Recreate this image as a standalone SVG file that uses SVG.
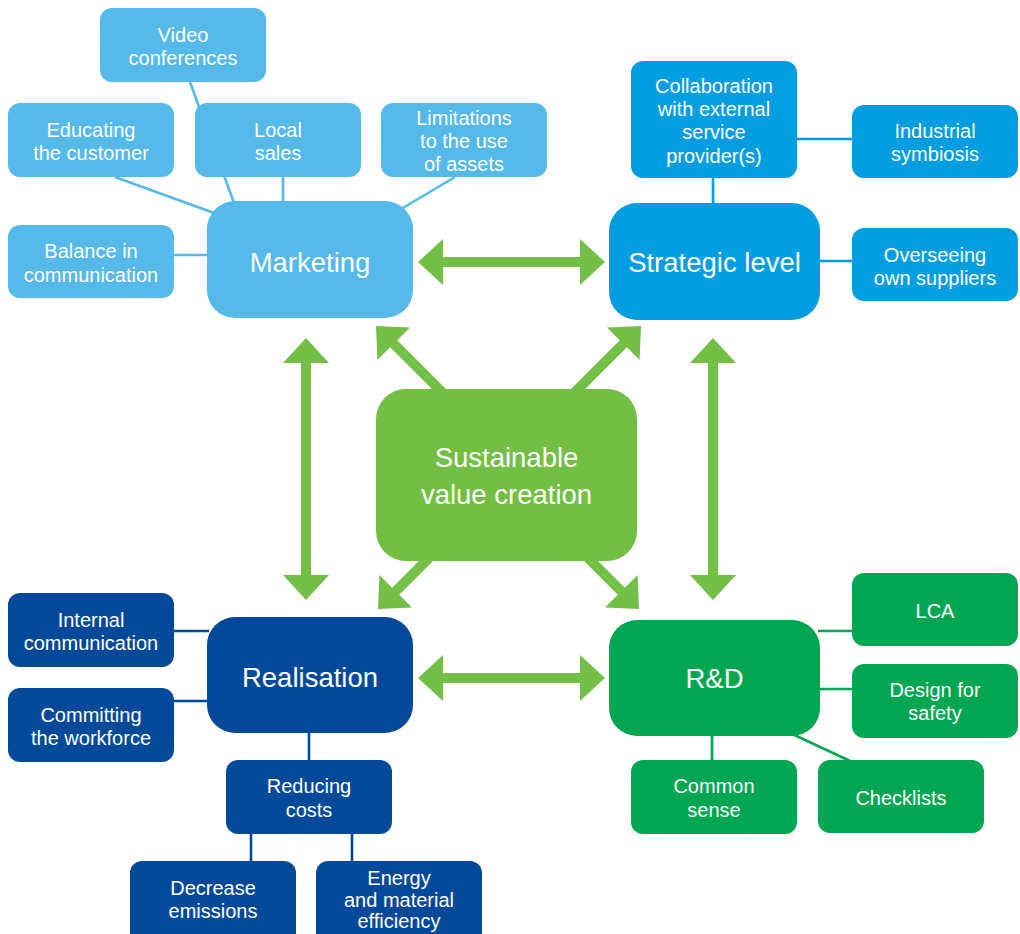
<svg xmlns="http://www.w3.org/2000/svg" width="1020" height="934" viewBox="0 0 1020 934">
  <style>
    text { font-family: "Liberation Sans", Arial, sans-serif; fill: #ffffff; text-anchor: middle; }
    .s { font-size: 20px; }
    .l { font-size: 27.5px; }
    .mk { fill: #55B9E9; }
    .st { fill: #009EE0; }
    .re { fill: #03499A; }
    .rd { fill: #00A651; }
    .cv { fill: #72BF44; }
    .ln-mk { stroke: #55B9E9; stroke-width: 2.6; fill: none; }
    .ln-st { stroke: #009EE0; stroke-width: 2.6; fill: none; }
    .ln-re { stroke: #03499A; stroke-width: 2.6; fill: none; }
    .ln-rd { stroke: #00A651; stroke-width: 2.6; fill: none; }
    .arrow { fill: #74BF46; }
  </style>
  <defs>
    <!-- single-headed arrow, tip at origin pointing toward -x -->
    <path id="single" d="M0,0 L25,-23 L25,-5 L100,-5 L100,5 L25,5 L25,23 Z"/>
  </defs>
  <rect width="1020" height="934" fill="#ffffff"/>

  <!-- connectors and arrows -->
  <g id="connectors">
    <line class="ln-mk" x1="190" y1="82" x2="234" y2="203"/>
    <line class="ln-mk" x1="115" y1="177" x2="214" y2="213"/>
    <line class="ln-mk" x1="283" y1="177" x2="283" y2="203"/>
    <line class="ln-mk" x1="455" y1="177" x2="401" y2="209"/>
    <line class="ln-mk" x1="172" y1="255" x2="209" y2="255"/>

    <line class="ln-st" x1="795" y1="139" x2="854" y2="139"/>
    <line class="ln-st" x1="713" y1="176" x2="713" y2="205"/>
    <line class="ln-st" x1="818" y1="261" x2="854" y2="261"/>

    <line class="ln-re" x1="172" y1="631" x2="209" y2="631"/>
    <line class="ln-re" x1="172" y1="701" x2="209" y2="701"/>
    <line class="ln-re" x1="309" y1="731" x2="309" y2="762"/>
    <line class="ln-re" x1="251" y1="832" x2="251" y2="863"/>
    <line class="ln-re" x1="352" y1="832" x2="352" y2="863"/>

    <line class="ln-rd" x1="818" y1="631" x2="854" y2="631"/>
    <line class="ln-rd" x1="818" y1="689" x2="854" y2="689"/>
    <line class="ln-rd" x1="712" y1="734" x2="712" y2="762"/>
    <line class="ln-rd" x1="788" y1="732" x2="850" y2="761"/>

    <path class="arrow" d="M418,262 L443,239 L443,257 L580,257 L580,239 L605,262 L580,285 L580,267 L443,267 L443,285 Z"/>
    <path class="arrow" d="M418,678 L443,655 L443,673 L580,673 L580,655 L605,678 L580,701 L580,683 L443,683 L443,701 Z"/>
    <path class="arrow" d="M306,338 L329,363 L311,363 L311,575 L329,575 L306,600 L283,575 L301,575 L301,363 L283,363 Z"/>
    <path class="arrow" d="M713,338 L736,363 L718,363 L718,575 L736,575 L713,600 L690,575 L708,575 L708,363 L690,363 Z"/>
    <use href="#single" class="arrow" transform="translate(376,326) rotate(45)"/>
    <use href="#single" class="arrow" transform="translate(641,326) rotate(135)"/>
    <use href="#single" class="arrow" transform="translate(378,609) rotate(-45)"/>
    <use href="#single" class="arrow" transform="translate(639,609) rotate(-135)"/>
  </g>

  <!-- centre -->
  <g id="sustainable-value-creation">
    <rect class="cv" x="376" y="389" width="261" height="172" rx="30"/>
    <text class="l" x="506.5" y="467">Sustainable</text>
    <text class="l" x="506.5" y="504">value creation</text>
  </g>

  <!-- marketing cluster -->
  <g id="marketing">
    <rect class="mk" x="207" y="201" width="206" height="117" rx="28"/>
    <text class="l" x="310" y="272">Marketing</text>
  </g>
  <g id="video-conferences">
    <rect class="mk" x="100" y="8" width="166" height="74" rx="12"/>
    <text class="s" x="183" y="42">Video</text>
    <text class="s" x="183" y="65">conferences</text>
  </g>
  <g id="educating-the-customer">
    <rect class="mk" x="8" y="103" width="166" height="74" rx="12"/>
    <text class="s" x="91" y="137">Educating</text>
    <text class="s" x="91" y="160">the customer</text>
  </g>
  <g id="local-sales">
    <rect class="mk" x="195" y="103" width="166" height="74" rx="12"/>
    <text class="s" x="278" y="137">Local</text>
    <text class="s" x="278" y="160">sales</text>
  </g>
  <g id="limitations">
    <rect class="mk" x="381" y="103" width="166" height="74" rx="12"/>
    <text class="s" x="464" y="125">Limitations</text>
    <text class="s" x="464" y="148">to the use</text>
    <text class="s" x="464" y="171">of assets</text>
  </g>
  <g id="balance-in-communication">
    <rect class="mk" x="8" y="225" width="166" height="73" rx="12"/>
    <text class="s" x="91" y="258">Balance in</text>
    <text class="s" x="91" y="282">communication</text>
  </g>

  <!-- strategic cluster -->
  <g id="strategic-level">
    <rect class="st" x="609" y="203" width="211" height="117" rx="28"/>
    <text class="l" x="714.5" y="272">Strategic level</text>
  </g>
  <g id="collaboration">
    <rect class="st" x="631" y="61" width="166" height="117" rx="12"/>
    <text class="s" x="714" y="93">Collaboration</text>
    <text class="s" x="714" y="116">with external</text>
    <text class="s" x="714" y="139">service</text>
    <text class="s" x="714" y="163">provider(s)</text>
  </g>
  <g id="industrial-symbiosis">
    <rect class="st" x="852" y="105" width="166" height="73" rx="12"/>
    <text class="s" x="935" y="138">Industrial</text>
    <text class="s" x="935" y="161">symbiosis</text>
  </g>
  <g id="overseeing-own-suppliers">
    <rect class="st" x="852" y="228" width="166" height="73" rx="12"/>
    <text class="s" x="935" y="262">Overseeing</text>
    <text class="s" x="935" y="285">own suppliers</text>
  </g>

  <!-- realisation cluster -->
  <g id="realisation">
    <rect class="re" x="207" y="617" width="206" height="116" rx="28"/>
    <text class="l" x="310" y="687">Realisation</text>
  </g>
  <g id="internal-communication">
    <rect class="re" x="8" y="593" width="166" height="74" rx="12"/>
    <text class="s" x="91" y="627">Internal</text>
    <text class="s" x="91" y="650">communication</text>
  </g>
  <g id="committing-the-workforce">
    <rect class="re" x="8" y="688" width="166" height="74" rx="12"/>
    <text class="s" x="91" y="722">Committing</text>
    <text class="s" x="91" y="745">the workforce</text>
  </g>
  <g id="reducing-costs">
    <rect class="re" x="226" y="760" width="166" height="74" rx="12"/>
    <text class="s" x="309" y="793">Reducing</text>
    <text class="s" x="309" y="817">costs</text>
  </g>
  <g id="decrease-emissions">
    <rect class="re" x="130" y="861" width="166" height="84" rx="12"/>
    <text class="s" x="213" y="895">Decrease</text>
    <text class="s" x="213" y="918">emissions</text>
  </g>
  <g id="energy-material-efficiency">
    <rect class="re" x="316" y="861" width="166" height="84" rx="12"/>
    <text class="s" x="399" y="885">Energy</text>
    <text class="s" x="399" y="907">and material</text>
    <text class="s" x="399" y="928">efficiency</text>
  </g>

  <!-- R&D cluster -->
  <g id="r-and-d">
    <rect class="rd" x="609" y="620" width="211" height="116" rx="28"/>
    <text class="l" x="714.5" y="688">R&amp;D</text>
  </g>
  <g id="lca">
    <rect class="rd" x="852" y="573" width="166" height="73" rx="12"/>
    <text class="s" x="935" y="618">LCA</text>
  </g>
  <g id="design-for-safety">
    <rect class="rd" x="852" y="664" width="166" height="74" rx="12"/>
    <text class="s" x="935" y="697">Design for</text>
    <text class="s" x="935" y="720">safety</text>
  </g>
  <g id="common-sense">
    <rect class="rd" x="631" y="760" width="166" height="74" rx="12"/>
    <text class="s" x="714" y="793">Common</text>
    <text class="s" x="714" y="817">sense</text>
  </g>
  <g id="checklists">
    <rect class="rd" x="818" y="760" width="166" height="73" rx="12"/>
    <text class="s" x="901" y="805">Checklists</text>
  </g>
</svg>
